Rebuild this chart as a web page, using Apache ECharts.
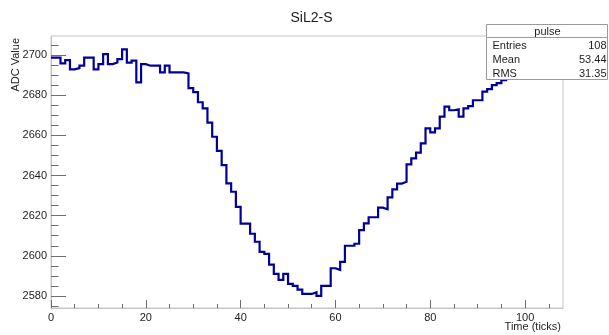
<!DOCTYPE html>
<html>
<head>
<meta charset="utf-8">
<script src="https://cdn.jsdelivr.net/npm/echarts@6/dist/echarts.min.js"></script>
<style>
  html, body { margin: 0; padding: 0; background: #ffffff; }
  #chart { width: 609px; height: 335px; }
</style>
</head>
<body>
<div id="chart"></div>
<script>
// Histogram "pulse": mean ADC value per time bin (108 bins, width 1 tick)
const binValues = [
  2698.7, 2698.7, 2695.9, 2697.5, 2692.9, 2693.5, 2694.7, 2698.7, 2698.7, 2692.9,
  2695.5, 2700.5, 2695.5, 2696.3, 2698.0, 2702.8, 2696.2, 2697.2, 2686.4, 2695.5,
  2694.7, 2694.7, 2694.7, 2691.4, 2694.7, 2691.4, 2691.4, 2691.4, 2690.9, 2683.5,
  2681.5, 2676.5, 2673.4, 2666.3, 2659.3, 2652.3, 2645.2, 2636.1, 2631.9, 2624.4,
  2616.0, 2616.0, 2611.0, 2607.0, 2602.0, 2601.0, 2595.6, 2591.0, 2588.0, 2591.0,
  2586.0, 2585.0, 2583.2, 2581.0, 2581.0, 2581.8, 2580.0, 2585.0, 2585.0, 2593.8,
  2593.0, 2597.0, 2605.0, 2605.0, 2606.0, 2612.8, 2616.2, 2619.2, 2619.2, 2624.0,
  2623.2, 2629.1, 2633.1, 2636.0, 2636.9, 2645.5, 2648.5, 2651.4, 2656.0, 2663.5,
  2661.5, 2663.5, 2669.3, 2674.3, 2672.5, 2673.0, 2669.3, 2673.4, 2674.6, 2677.5,
  2677.5, 2681.8, 2683.0, 2685.0, 2686.0, 2687.5, 2689.5, 2691.0, 2692.0, 2693.5,
  2694.0, 2695.5, 2696.0, 2697.0, 2697.5, 2698.5, 2699.0, 2699.5
];

const xMajorTicks = [0, 20, 40, 60, 80, 100];
const xMinorTicks = [5, 10, 15, 25, 30, 35, 45, 50, 55, 65, 70, 75, 85, 90, 95, 105];
const yMajorTicks = [2580, 2600, 2620, 2640, 2660, 2680, 2700];
const yMinorTicks = [2575, 2585, 2590, 2595, 2605, 2610, 2615, 2625, 2630, 2635,
                     2645, 2650, 2655, 2665, 2670, 2675, 2685, 2690, 2695, 2705];

const histName = 'pulse';
const statsRows = [
  ['Entries', '108'],
  ['Mean', '53.44'],
  ['RMS', '31.35']
];

const xRange = [0, 108];
const yRange = [2574, 2709.5];

// Step outline: each bin drawn from its low edge to the next edge
const stepPoints = binValues.map((v, i) => [i, v]);
stepPoints.push([binValues.length, binValues[binValues.length - 1]]);

const FONT = '"Liberation Sans", Arial, Helvetica, sans-serif';
const TEXT = '#1e1e1e';
const FRAME = '#c4c4c4';
const TICK = '#6e6e6e';

const chart = echarts.init(document.getElementById('chart'), null, { renderer: 'canvas' });

const statsLeft = 486, statsTop = 24.5, statsW = 121, statsH = 55, headerH = 13;

const statsGraphics = [
  {
    type: 'rect', z: 100,
    shape: { x: statsLeft + 0.5, y: statsTop, width: statsW, height: statsH },
    style: { fill: '#ffffff', stroke: '#9a9a9a', lineWidth: 1 }
  },
  {
    type: 'line', z: 101,
    shape: { x1: statsLeft + 0.5, y1: statsTop + headerH, x2: statsLeft + statsW + 0.5, y2: statsTop + headerH },
    style: { stroke: '#9a9a9a', lineWidth: 1 }
  },
  {
    type: 'text', z: 101,
    x: statsLeft + statsW / 2 + 1, y: statsTop + headerH / 2 + 0.5,
    style: { text: histName, font: '11px ' + FONT, fill: TEXT, align: 'center', verticalAlign: 'middle' }
  }
];
statsRows.forEach((row, k) => {
  const cy = statsTop + headerH + 8.5 + k * 13.8;
  statsGraphics.push({
    type: 'text', z: 101, x: statsLeft + 6.5, y: cy,
    style: { text: row[0], font: '11px ' + FONT, fill: TEXT, align: 'left', verticalAlign: 'middle' }
  });
  statsGraphics.push({
    type: 'text', z: 101, x: statsLeft + statsW - 0.5, y: cy,
    style: { text: row[1], font: '11px ' + FONT, fill: TEXT, align: 'right', verticalAlign: 'middle' }
  });
});

const plainNumber = (v) => String(v);

const option = {
  animation: false,
  backgroundColor: '#ffffff',
  title: {
    text: 'SiL2-S',
    left: 306.5, top: 6,
    textAlign: 'center',
    textStyle: { fontFamily: FONT, fontSize: 14, fontWeight: 'normal', color: TEXT }
  },
  grid: {
    left: 51, top: 36, right: 46, bottom: 27,
    show: true, borderColor: FRAME, borderWidth: 1, backgroundColor: 'transparent'
  },
  xAxis: [
    {
      type: 'value', min: xRange[0], max: xRange[1], position: 'bottom',
      axisLine: { show: true, lineStyle: { color: FRAME, width: 1 } },
      axisTick: { show: true, inside: true, length: 8, customValues: xMajorTicks, lineStyle: { color: TICK } },
      axisLabel: { show: true, customValues: xMajorTicks, formatter: plainNumber, margin: 4, fontFamily: FONT, fontSize: 11, color: TEXT },
      splitLine: { show: false }
    },
    {
      type: 'value', min: xRange[0], max: xRange[1], position: 'bottom', gridIndex: 0,
      axisLine: { show: false },
      axisTick: { show: true, inside: true, length: 4, customValues: xMinorTicks, lineStyle: { color: TICK } },
      axisLabel: { show: false },
      splitLine: { show: false }
    }
  ],
  yAxis: [
    {
      type: 'value', min: yRange[0], max: yRange[1], position: 'left',
      axisLine: { show: true, lineStyle: { color: FRAME, width: 1 } },
      axisTick: { show: true, inside: true, length: 15, customValues: yMajorTicks, lineStyle: { color: TICK } },
      axisLabel: { show: true, customValues: yMajorTicks, formatter: plainNumber, margin: 4, fontFamily: FONT, fontSize: 11, color: TEXT },
      splitLine: { show: false }
    },
    {
      type: 'value', min: yRange[0], max: yRange[1], position: 'left', gridIndex: 0,
      axisLine: { show: false },
      axisTick: { show: true, inside: true, length: 7.5, customValues: yMinorTicks, lineStyle: { color: TICK } },
      axisLabel: { show: false },
      splitLine: { show: false }
    }
  ],
  series: [
    {
      name: histName,
      type: 'line',
      xAxisIndex: 0, yAxisIndex: 0,
      step: 'end',
      data: stepPoints,
      showSymbol: false,
      symbol: 'none',
      lineStyle: { color: '#000099', width: 2.2, join: 'miter' },
      z: 5
    }
  ],
  graphic: [
    {
      type: 'text', z: 50,
      x: 15.5, y: 38, rotation: Math.PI / 2,
      style: { text: 'ADC Value', font: '11px ' + FONT, fill: TEXT, align: 'right', verticalAlign: 'middle' }
    },
    {
      type: 'text', z: 50,
      x: 561, y: 327,
      style: { text: 'Time (ticks)', font: '11px ' + FONT, fill: TEXT, align: 'right', verticalAlign: 'middle' }
    }
  ].concat(statsGraphics)
};

chart.setOption(option);
</script>
</body>
</html>
